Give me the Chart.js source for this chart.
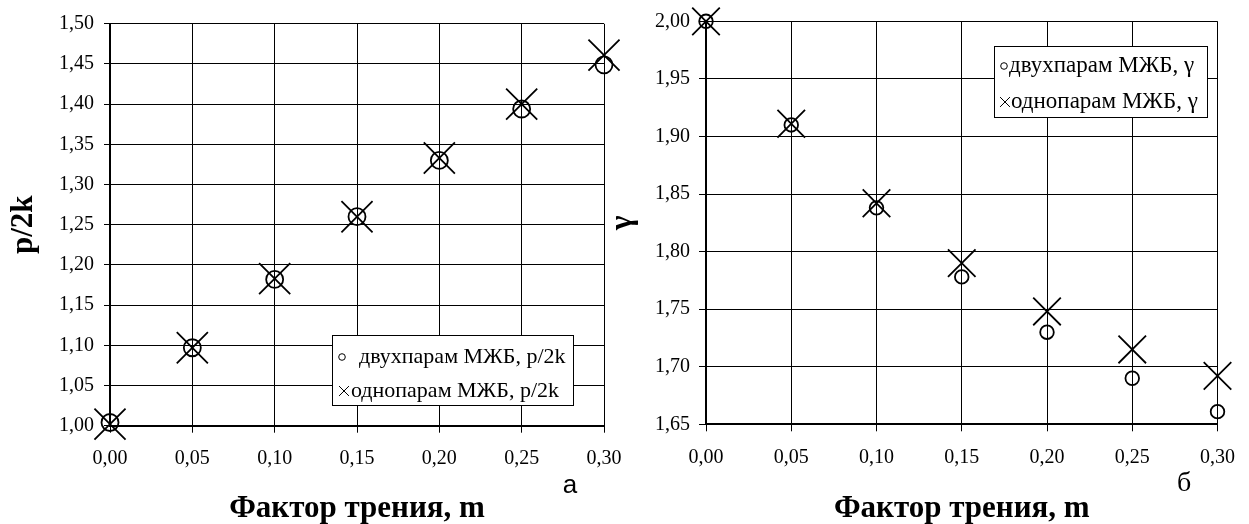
<!DOCTYPE html>
<html>
<head>
<meta charset="utf-8">
<script src="https://cdn.jsdelivr.net/npm/chart.js@4.4.0/dist/chart.umd.min.js"></script>
<style>
    html, body { margin: 0; padding: 0; background: #fff; }
    #wrap { position: relative; width: 1249px; height: 524px; overflow: hidden; }
    .box { position: absolute; top: 0; height: 524px; }
    #box-a { left: 0; width: 640px; }
    #box-b { left: 600px; width: 649px; }
</style>
</head>
<body>
<div id="wrap">
    <div class="box" id="box-a"><canvas id="chart-a"></canvas></div>
    <div class="box" id="box-b"><canvas id="chart-b"></canvas></div>
</div>
<script>
var frictionFactor = [0, 0.05, 0.10, 0.15, 0.20, 0.25, 0.30];
var pressureTwoPair = [1.004, 1.097, 1.182, 1.260, 1.330, 1.394, 1.449];
var pressureOnePair = [1.002, 1.097, 1.183, 1.260, 1.333, 1.400, 1.461];
var gammaTwoPair = [2.000, 1.910, 1.838, 1.778, 1.730, 1.690, 1.661];
var gammaOnePair = [2.000, 1.911, 1.842, 1.790, 1.748, 1.715, 1.692];
var legendA = ['двухпарам МЖБ, p/2k', 'однопарам МЖБ, p/2k'];
var legendB = ['двухпарам МЖБ, γ', 'однопарам МЖБ, γ'];
var xTitle = 'Фактор трения, m';

var serif = '"Liberation Serif", "Times New Roman", serif';

// legend box + panel letter, drawn where the original had them
var boxLegend = {
    id: 'boxLegend',
    afterDraw: function (chart, args, opts) {
        var ctx = chart.ctx;
        ctx.save();
        ctx.fillStyle = '#fff';
        ctx.fillRect(opts.left, opts.top, opts.width, opts.height);
        ctx.strokeStyle = '#000';
        ctx.lineWidth = 1;
        ctx.strokeRect(opts.left + 0.5, opts.top + 0.5, opts.width, opts.height);

        chart.data.datasets.forEach(function (ds, i) {
            var row = opts.rows[i];
            ctx.strokeStyle = '#000';
            ctx.fillStyle = 'rgba(0,0,0,0)';
            Chart.helpers.drawPoint(ctx, {
                pointStyle: ds.pointStyle,
                radius: row.radius,
                borderWidth: 1.4,
                rotation: 0
            }, row.markerX, row.y);
            ctx.fillStyle = '#000';
            ctx.font = opts.fontSize + 'px ' + serif;
            ctx.textAlign = 'left';
            ctx.textBaseline = 'middle';
            ctx.fillText(ds.label, row.textX, row.y);
        });

        ctx.fillStyle = '#000';
        ctx.font = opts.tag.font;
        ctx.textAlign = 'center';
        ctx.textBaseline = 'middle';
        ctx.fillText(opts.tag.text, opts.tag.x, opts.tag.y);
        ctx.restore();
    }
};

function pointsOf(values) {
    return frictionFactor.map(function (x, i) {
        return {x: x, y: values[i]};
    });
}

function commaLabel(value) {
    return value.toFixed(2).replace('.', ',');
}

function markerSet(label, values, style, radius) {
    return {
        label: label,
        data: pointsOf(values),
        pointStyle: style,
        pointRadius: radius,
        pointHoverRadius: radius,
        pointBorderWidth: 1.8,
        pointBorderColor: '#000',
        pointBackgroundColor: 'rgba(0,0,0,0)',
        showLine: false,
        clip: false
    };
}

function panelOptions(p) {
    return {
        responsive: true,
        maintainAspectRatio: false,
        animation: false,
        events: [],
        layout: {padding: {left: 0, top: p.top, right: p.right, bottom: 0}},
        plugins: {
            legend: {display: false},
            tooltip: {enabled: false},
            boxLegend: p.legend
        },
        scales: {
            x: {
                type: 'linear',
                min: 0,
                max: 0.3,
                afterFit: function (scale) { scale.height = p.xHeight; },
                ticks: {
                    stepSize: 0.05,
                    color: '#000',
                    padding: 14,
                    font: {family: serif, size: 20},
                    callback: commaLabel
                },
                grid: {color: '#000', lineWidth: 1, tickLength: 7},
                border: {display: true, color: '#000', width: 2},
                title: {
                    display: true,
                    text: xTitle,
                    color: '#000',
                    font: {family: serif, size: 31, weight: 'bold', lineHeight: 1},
                    padding: {top: 0, bottom: 0}
                }
            },
            y: {
                type: 'linear',
                min: p.yMin,
                max: p.yMax,
                afterFit: function (scale) { scale.width = p.yWidth; },
                ticks: {
                    stepSize: 0.05,
                    color: '#000',
                    padding: p.tickPad,
                    font: {family: serif, size: 20},
                    callback: commaLabel
                },
                grid: {color: '#000', lineWidth: 1, tickLength: p.tickLen},
                border: {display: true, color: '#000', width: 2},
                title: {
                    display: true,
                    text: p.yTitle,
                    color: '#000',
                    font: {family: serif, size: 31, weight: 'bold', lineHeight: 1},
                    padding: {top: p.yTitlePad, bottom: 0}
                }
            }
        }
    };
}

new Chart(document.getElementById('chart-a'), {
    type: 'scatter',
    data: {
        datasets: [
            markerSet(legendA[0], pressureTwoPair, 'circle', 8.5),
            markerSet(legendA[1], pressureOnePair, 'crossRot', 22)
        ]
    },
    options: panelOptions({
        top: 23.5, right: 36, xHeight: 98.3, yWidth: 110,
        yMin: 1.0, yMax: 1.5, yTitle: 'p/2k', yTitlePad: 8,
        tickPad: 10, tickLen: 6,
        legend: {
            left: 332, top: 335, width: 241, height: 70, fontSize: 22,
            rows: [
                {markerX: 342, textX: 359, y: 357, radius: 3.3},
                {markerX: 344, textX: 351, y: 391, radius: 7}
            ],
            tag: {text: 'а', x: 570, y: 486, font: '26px "Liberation Sans", Arial, sans-serif'}
        }
    }),
    plugins: [boxLegend]
});

new Chart(document.getElementById('chart-b'), {
    type: 'scatter',
    data: {
        datasets: [
            markerSet(legendB[0], gammaTwoPair, 'circle', 6.8),
            markerSet(legendB[1], gammaOnePair, 'crossRot', 19.5)
        ]
    },
    options: panelOptions({
        top: 21, right: 21, xHeight: 99.7, yWidth: 106,
        yMin: 1.65, yMax: 2.0, yTitle: 'γ', yTitlePad: 7,
        tickPad: 9, tickLen: 7,
        legend: {
            left: 394, top: 46, width: 213, height: 71, fontSize: 23,
            rows: [
                {markerX: 404, textX: 409, y: 66, radius: 3.3},
                {markerX: 405, textX: 411, y: 102, radius: 7}
            ],
            tag: {text: 'б', x: 584, y: 484, font: '28px ' + serif}
        }
    }),
    plugins: [boxLegend]
});
</script>
</body>
</html>
